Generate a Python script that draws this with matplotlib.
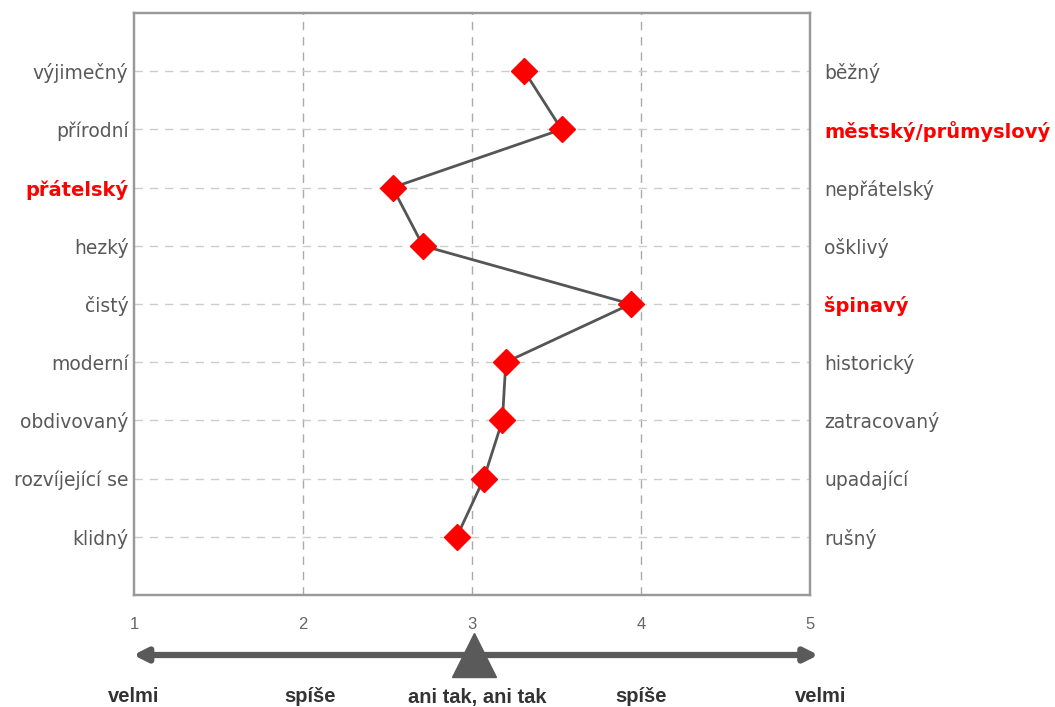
import matplotlib
matplotlib.use("Agg")
import matplotlib.pyplot as plt

# sémantický diferenciál - průměrné hodnoty
left_labels = ["výjimečný", "přírodní", "přátelský", "hezký", "čistý",
               "moderní", "obdivovaný", "rozvíjející se", "klidný"]
right_labels = ["běžný", "městský/průmyslový", "nepřátelský", "ošklivý", "špinavý",
                "historický", "zatracovaný", "upadající", "rušný"]
values = [3.31, 3.53, 2.53, 2.71, 3.94, 3.20, 3.18, 3.07, 2.91]
left_bold = ["přátelský"]
right_bold = ["městský/průmyslový", "špinavý"]
scale_ticks = [1, 2, 3, 4, 5]
scale_labels = ["velmi", "spíše", "ani tak, ani tak", "spíše", "velmi"]

gray = "#595959"
red = "#ff0000"

fig = plt.figure(figsize=(10.55, 7.07), dpi=100)
W, H = 1055, 707
ax = fig.add_axes([134 / W, (H - 595) / H, (810 - 134) / W, (595 - 13) / H])

n = len(values)
ypos = list(range(n, 0, -1))
ax.plot(values, ypos, color="#555555", lw=2, zorder=3)
ax.plot(values, ypos, ls="none", marker="D", ms=13, color=red, zorder=4)

ax.set_xlim(1, 5)
ax.set_ylim(0, n + 1)
ax.set_xticks(scale_ticks)
ax.set_xticklabels([str(t) for t in scale_ticks], family="Liberation Sans",
                   fontsize=12, color="#666666")
ax.tick_params(axis="x", length=0, pad=16)

for x in [2, 3, 4]:
    ax.axvline(x, color="#aaaaaa", lw=1, ls=(0, (6, 5)), zorder=1)
for y in ypos:
    ax.axhline(y, color="#cccccc", lw=1, ls=(0, (6, 5)), zorder=1)

ax.set_yticks(ypos)
ax.set_yticklabels(left_labels, fontsize=13.5)
ax.tick_params(axis="y", length=0, pad=4)
for lab in ax.get_yticklabels():
    if lab.get_text() in left_bold:
        lab.set_color(red)
        lab.set_fontweight("bold")
        lab.set_fontsize(14)
    else:
        lab.set_color(gray)

ax2 = ax.twinx()
ax2.set_ylim(ax.get_ylim())
ax2.set_yticks(ypos)
ax2.set_yticklabels(right_labels, fontsize=13.5)
ax2.tick_params(axis="y", length=0, pad=10)
for lab in ax2.get_yticklabels():
    if lab.get_text() in right_bold:
        lab.set_color(red)
        lab.set_fontweight("bold")
        lab.set_fontsize(14)
    else:
        lab.set_color(gray)

for a in (ax, ax2):
    for s in a.spines.values():
        s.set_color("#999999")
        s.set_linewidth(1.6)

# spodní škála se šipkou
axb = fig.add_axes([134 / W, 0, (810 - 134) / W, (H - 595) / H])
axb.set_xlim(1, 5)
axb.set_ylim(H, 595)
axb.axis("off")
axb.annotate("", xy=(5.05, 655), xytext=(0.995, 655),
             arrowprops=dict(arrowstyle="<|-|>,head_length=0.8,head_width=0.4",
                             color="#5a5a5a", lw=4.5, shrinkA=0, shrinkB=0),
             annotation_clip=False)
axb.plot([3.01], [655], marker="^", ms=32, color="#5a5a5a", clip_on=False)
label_x = [1.0, 2.04, 3.03, 4.0, 5.06]
for x, t in zip(label_x, scale_labels):
    axb.text(x, 697, t, ha="center", va="center", family="Liberation Sans",
             fontweight="bold", fontsize=14.5, color="#333333", clip_on=False)

fig.savefig("out.png", dpi=100)
